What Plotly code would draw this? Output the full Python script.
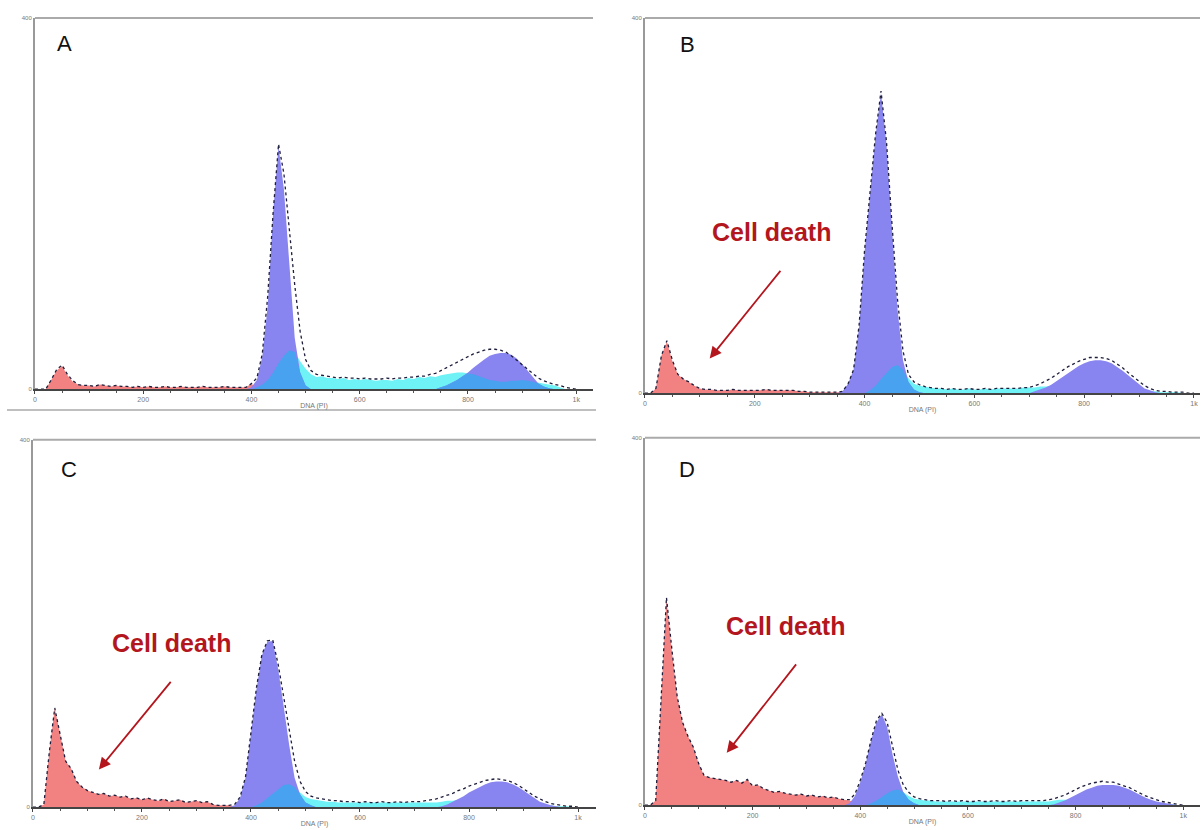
import numpy as np
import plotly.graph_objects as go

# ---------------- data (channel = DNA (PI), counts) ----------------
X_GRID = list(range(0, 1010, 10))
TICK_VALS = [0, 200, 400, 600, 800, 1000]
TICK_TEXT = ["0", "200", "400", "600", "800", "1k"]
Y_MAX = 400
PANEL_LABELS = ["A", "B", "C", "D"]
NOTE = "Cell death"

# Panel A
A_debris_x = list(range(0, 410, 10))
A_debris = [0, 0, 0, 10, 20, 25, 15, 8, 5, 4,
            4, 3, 5, 4, 3, 4, 3, 3, 2, 3,
            2, 3, 2, 2, 3, 2, 2, 3, 2, 2,
            2, 3, 2, 2, 2, 3, 2, 2, 2, 2,
            6]
A_g1_x = list(range(380, 530, 10))
A_g1 = [0, 0, 2, 10, 35, 90, 190, 262, 215, 130, 55, 18, 4, 0, 0]
A_s_x = list(range(400, 1010, 10))
A_s = [0, 2, 5, 10, 18, 28, 36, 42, 40, 30,
       22, 16, 13, 14, 12, 12, 11, 12, 10, 11,
       10, 11, 10, 9, 10, 10, 9, 11, 10, 12,
       11, 13, 12, 14, 13, 15, 16, 17, 18, 18,
       17, 16, 14, 12, 10, 9, 8, 8, 9, 9,
       10, 9, 8, 7, 6, 5, 4, 2, 0, 0,
       0]
A_g2_x = list(range(740, 960, 10))
A_g2 = [0, 2, 4, 7, 10, 14, 18, 23, 28, 32, 36, 38, 39, 39, 37, 33, 27, 20, 12, 6, 3, 1]
A_data = [0, 0, 0, 10, 21, 26, 16, 9, 5, 4,
          4, 3, 5, 4, 3, 4, 3, 3, 2, 3,
          2, 3, 2, 2, 3, 2, 2, 3, 2, 2,
          2, 3, 2, 2, 2, 3, 2, 2, 2, 2,
          6, 12, 38, 100, 190, 264, 232, 168, 112, 62,
          32, 20, 16, 15, 14, 13, 12, 13, 12, 12,
          11, 12, 11, 11, 11, 12, 11, 12, 12, 13,
          13, 14, 14, 16, 17, 20, 23, 26, 29, 32,
          35, 38, 40, 42, 43, 43, 42, 40, 36, 31,
          26, 21, 16, 12, 9, 7, 5, 4, 2, 1,
          0]

# Panel B
B_debris_x = list(range(0, 410, 10))
B_debris = [0, 0, 5, 40, 55, 34, 20, 15, 12, 8,
            5, 4, 4, 3, 3, 3, 4, 3, 3, 3,
            3, 3, 4, 3, 3, 3, 3, 3, 2, 2,
            1, 1, 1, 1, 1, 1, 1, 0, 0, 0,
            0]
B_g1_x = list(range(350, 530, 10))
B_g1 = [0, 2, 10, 25, 70, 150, 210, 274, 320, 265, 175, 90, 35, 12, 4, 1, 0, 0]
B_s_x = list(range(400, 1010, 10))
B_s = [0, 3, 8, 15, 22, 28, 30, 25, 16, 10,
       8, 7, 6, 5, 5, 4, 5, 4, 4, 5,
       4, 4, 5, 4, 5, 5, 5, 5, 5, 6,
       6, 6, 7, 7, 8, 9, 10, 10, 10, 10,
       10, 10, 10, 9, 9, 8, 8, 7, 6, 5,
       4, 3, 2, 2, 1, 1, 1, 1, 0, 0,
       0]
B_g2_x = list(range(700, 950, 10))
B_g2 = [0, 2, 4, 6, 9, 13, 17, 21, 25, 29, 32, 34, 35, 35, 34, 32, 28, 24, 19, 14, 9, 5, 3, 1, 0]
B_data = [0, 0, 5, 40, 56, 35, 20, 15, 12, 8,
          5, 4, 4, 3, 3, 3, 4, 3, 3, 3,
          3, 3, 4, 3, 3, 3, 3, 3, 2, 2,
          1, 1, 1, 1, 1, 1, 2, 10, 25, 72,
          152, 212, 276, 322, 268, 180, 100, 45, 20, 12,
          9, 7, 6, 5, 5, 4, 5, 4, 4, 5,
          4, 4, 5, 4, 5, 5, 5, 5, 5, 6,
          6, 8, 10, 13, 16, 20, 24, 28, 31, 34,
          36, 38, 38, 38, 37, 35, 31, 27, 22, 17,
          12, 8, 5, 3, 2, 2, 1, 1, 1, 0,
          0]

# Panel C
C_debris_x = list(range(0, 410, 10))
C_debris = [0, 0, 3, 60, 108, 79, 50, 42, 28, 22,
            18, 16, 14, 15, 12, 13, 11, 12, 9, 10,
            8, 10, 8, 7, 9, 6, 7, 8, 5, 6,
            7, 5, 6, 3, 2, 2, 2, 1, 1, 0,
            0]
C_g1_x = list(range(360, 530, 10))
C_g1 = [0, 2, 10, 32, 80, 128, 165, 180, 181, 150, 110, 68, 32, 14, 5, 2, 0]
C_s_x = list(range(400, 1010, 10))
C_s = [0, 2, 5, 10, 15, 20, 24, 25, 22, 16,
       11, 9, 8, 7, 6, 6, 5, 5, 5, 5,
       5, 5, 5, 5, 5, 5, 5, 5, 5, 5,
       5, 5, 5, 5, 5, 6, 7, 7, 8, 8,
       8, 8, 8, 8, 7, 7, 7, 6, 6, 5,
       5, 4, 3, 3, 2, 2, 1, 1, 1, 0,
       0]
C_g2_x = list(range(740, 980, 10))
C_g2 = [0, 1, 3, 6, 9, 12, 16, 19, 22, 25, 27, 28, 28, 27, 25, 22, 18, 14, 10, 6, 4, 2, 1, 0]
C_data = [0, 0, 3, 60, 108, 79, 50, 42, 28, 22,
          18, 16, 14, 15, 12, 13, 11, 12, 9, 10,
          8, 10, 8, 7, 9, 6, 7, 8, 5, 6,
          7, 5, 6, 3, 2, 2, 2, 3, 11, 33,
          82, 130, 166, 181, 182, 155, 120, 85, 50, 28,
          17, 12, 10, 9, 8, 7, 7, 6, 6, 6,
          5, 6, 5, 5, 6, 5, 5, 6, 5, 6,
          6, 6, 7, 8, 9, 11, 13, 15, 18, 20,
          23, 25, 27, 29, 30, 31, 30, 29, 27, 24,
          20, 16, 12, 9, 6, 4, 3, 2, 1, 1,
          0]

# Panel D
D_debris_x = list(range(0, 410, 10))
D_debris = [0, 0, 5, 120, 225, 168, 118, 90, 75, 63,
            45, 32, 30, 29, 28, 27, 25, 27, 24, 28,
            21, 22, 18, 16, 14, 15, 13, 12, 11, 12,
            10, 11, 9, 10, 8, 9, 7, 6, 5, 3,
            0]
D_g1_x = list(range(370, 530, 10))
D_g1 = [0, 2, 10, 25, 45, 70, 90, 99, 85, 55, 31, 14, 6, 2, 0, 0]
D_s_x = list(range(400, 1010, 10))
D_s = [0, 0, 2, 5, 9, 13, 16, 17, 14, 10,
       7, 6, 5, 5, 4, 4, 4, 4, 4, 4,
       4, 4, 4, 4, 4, 4, 4, 4, 4, 4,
       4, 4, 4, 4, 4, 4, 5, 6, 6, 6,
       6, 7, 7, 7, 7, 6, 6, 6, 5, 5,
       5, 4, 4, 3, 3, 2, 2, 1, 1, 0,
       0]
D_g2_x = list(range(750, 1000, 10))
D_g2 = [0, 1, 3, 5, 8, 11, 14, 17, 19, 21, 22, 22, 22, 21, 19, 17, 14, 11, 8, 6, 4, 3, 2, 1, 0]
D_data = [0, 0, 5, 120, 226, 170, 118, 90, 75, 63,
          45, 32, 30, 29, 28, 27, 25, 27, 24, 28,
          21, 22, 18, 16, 14, 15, 13, 12, 11, 12,
          10, 11, 9, 10, 8, 9, 7, 6, 6, 12,
          27, 46, 71, 92, 100, 90, 62, 38, 22, 14,
          9, 7, 6, 5, 5, 5, 4, 5, 4, 5,
          4, 4, 5, 4, 4, 5, 4, 4, 5, 4,
          5, 5, 5, 5, 5, 6, 7, 9, 11, 14,
          17, 20, 22, 24, 25, 26, 25, 25, 23, 21,
          19, 16, 13, 10, 8, 6, 4, 3, 2, 1,
          0]

# annotation anchors (data coords): text, arrow tail, arrow head
B_note = (231, 172); B_tail = (249, 132); B_head = (118, 37)
C_note = (254, 179); C_tail = (255, 138); C_head = (121, 41)
D_note = (262, 195); D_tail = (283, 155); D_head = (152, 57)

# ---------------- styling ----------------
PINK = "rgb(242,130,130)"
PURPLE = "rgb(136,132,240)"
CYAN = "rgb(110,242,246)"
MIDBLUE = "rgb(72,162,240)"
DOT = "rgb(30,30,60)"
NOTE_RED = "rgb(180,22,30)"

panels = [
    dict(debris=(A_debris_x, A_debris), g1=(A_g1_x, A_g1), s=(A_s_x, A_s),
         g2=(A_g2_x, A_g2), data=A_data, dom_x=(33, 592), dom_y=(15, 389), xmax=1031,
         label_at=(55, 372), note=None, g2_overlap=True),
    dict(debris=(B_debris_x, B_debris), g1=(B_g1_x, B_g1), s=(B_s_x, B_s),
         g2=(B_g2_x, B_g2), data=B_data, dom_x=(644, 1200), dom_y=(15, 393), xmax=1011,
         label_at=(78, 372), note=(B_note, B_tail, B_head), g2_overlap=False),
    dict(debris=(C_debris_x, C_debris), g1=(C_g1_x, C_g1), s=(C_s_x, C_s),
         g2=(C_g2_x, C_g2), data=C_data, dom_x=(31, 595), dom_y=(440, 810), xmax=1033,
         label_at=(66, 368), note=(C_note, C_tail, C_head), g2_overlap=False),
    dict(debris=(D_debris_x, D_debris), g1=(D_g1_x, D_g1), s=(D_s_x, D_s),
         g2=(D_g2_x, D_g2), data=D_data, dom_x=(644, 1200), dom_y=(438, 808), xmax=1031,
         label_at=(78, 366), note=(D_note, D_tail, D_head), g2_overlap=False),
]

W, H = 1204, 830


def on_grid(xs, ys):
    out = np.zeros(len(X_GRID))
    idx = {x: i for i, x in enumerate(X_GRID)}
    for x, y in zip(xs, ys):
        out[idx[x]] = y
    return out


fig = go.Figure()
layout = dict(width=W, height=H, margin=dict(l=0, r=0, t=0, b=0),
              paper_bgcolor="white", plot_bgcolor="white", showlegend=False,
              font=dict(family="Liberation Sans, Arial, sans-serif"))
annotations = []
shapes = []

for k, p in enumerate(panels):
    sfx = "" if k == 0 else str(k + 1)
    xa, ya = "x" + sfx, "y" + sfx
    debris = on_grid(*p["debris"])
    g1 = on_grid(*p["g1"])
    s = on_grid(*p["s"])
    g2 = on_grid(*p["g2"])
    under = g1 + g2 if p["g2_overlap"] else g1
    overlap = np.minimum(s, under)

    def area(y, color):
        fig.add_trace(go.Scatter(x=X_GRID, y=y, mode="lines", fill="tozeroy",
                                 fillcolor=color, line=dict(width=0, color=color),
                                 hoverinfo="skip", xaxis=xa, yaxis=ya))

    area(debris, PINK)
    area(s, CYAN)
    area(g1, PURPLE)
    area(g2, PURPLE)
    area(overlap, MIDBLUE)
    fig.add_trace(go.Scatter(x=X_GRID, y=p["data"], mode="lines",
                             line=dict(color=DOT, width=1.3, dash="dot"),
                             hoverinfo="skip", xaxis=xa, yaxis=ya))

    x0, x1 = p["dom_x"]
    yt, yb = p["dom_y"]
    layout["xaxis" + sfx] = dict(
        domain=[x0 / W, x1 / W], range=[0, p["xmax"]], anchor=ya,
        showgrid=False, zeroline=False, showline=True, linecolor="#444", linewidth=1.5,
        ticks="outside", ticklen=3, tickcolor="#444", tickwidth=1,
        tickvals=TICK_VALS, ticktext=TICK_TEXT,
        tickfont=dict(size=7, color="#777"),
        minor=dict(ticks="outside", ticklen=2, dtick=50, tickcolor="#555"),
        title=dict(text="DNA (PI)", font=dict(size=7, color="#777"), standoff=1),
    )
    layout["yaxis" + sfx] = dict(
        domain=[1 - yb / H, 1 - yt / H], range=[0, Y_MAX], anchor=xa,
        showgrid=False, zeroline=False, showline=True, linecolor="#999", linewidth=2,
        ticks="", tickvals=[0, Y_MAX], ticktext=["0", str(Y_MAX)],
        tickfont=dict(size=6, color="#777"),
    )
    shapes.append(dict(type="line", xref=xa + " domain", yref=ya + " domain",
                       x0=0, x1=1, y0=1, y1=1, line=dict(color="#aaa", width=2)))
    annotations.append(dict(x=p["label_at"][0], y=p["label_at"][1], xref=xa, yref=ya,
                            text=PANEL_LABELS[k], showarrow=False,
                            font=dict(size=22, color="#111")))
    if p["note"]:
        (tx, ty), (ax, ay), (hx, hy) = p["note"]
        annotations.append(dict(x=tx, y=ty, xref=xa, yref=ya, text="<b>" + NOTE + "</b>",
                                showarrow=False, font=dict(size=25, color=NOTE_RED)))
        annotations.append(dict(x=hx, y=hy, ax=ax, ay=ay, xref=xa, yref=ya,
                                axref=xa, ayref=ya, text="", showarrow=True,
                                arrowhead=2, arrowsize=1.3, arrowwidth=1.8,
                                arrowcolor=NOTE_RED))

shapes.append(dict(type="line", xref="paper", yref="paper", x0=5 / W, x1=595 / W,
                   y0=1 - 410 / H, y1=1 - 410 / H, line=dict(color="#aaa", width=1.5)))

layout["annotations"] = annotations
layout["shapes"] = shapes
fig.update_layout(**layout)
fig.write_html("out.html")
